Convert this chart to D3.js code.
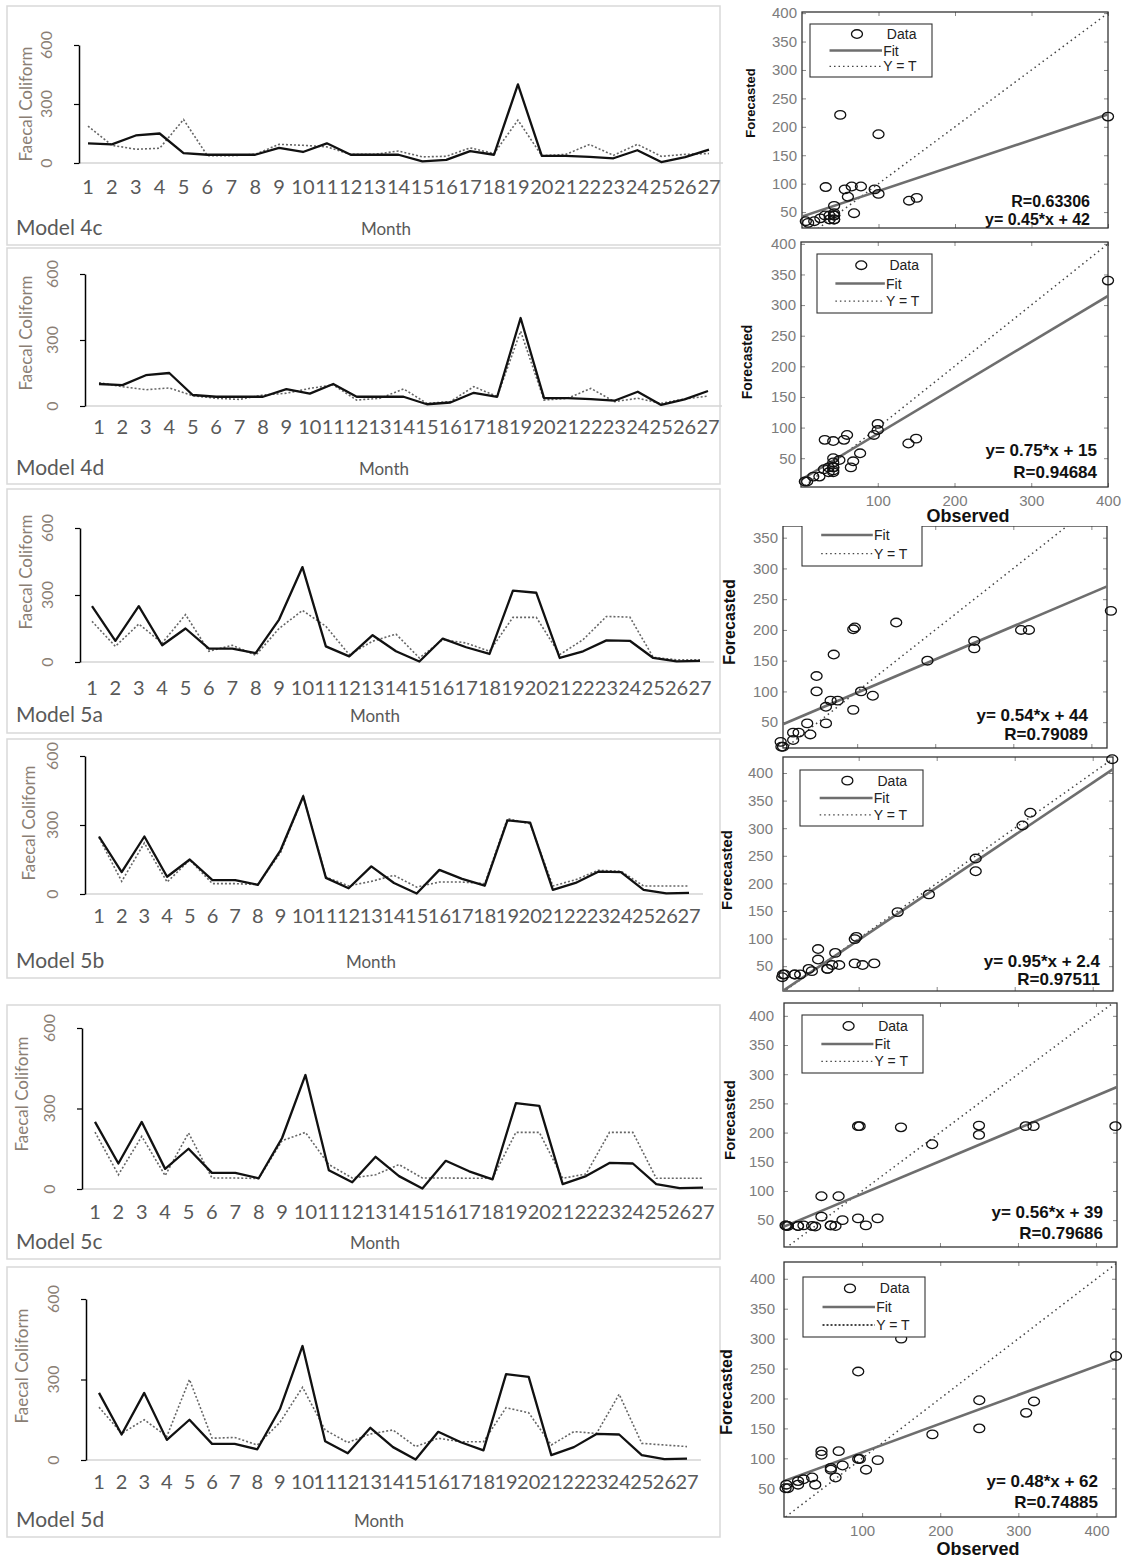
<!DOCTYPE html>
<html>
<head>
<meta charset="utf-8">
<script src="https://cdn.jsdelivr.net/npm/d3@7"></script>
<style>
body { margin: 0; background: #fff; }
svg { display: block; }
</style>
</head>
<body>
<script>
// month categories and tick values
const months = [1, 2, 3, 4, 5, 6, 7, 8, 9, 10, 11, 12, 13, 14, 15, 16, 17, 18, 19, 20, 21, 22, 23, 24, 25, 26, 27];
const coliformTicks = [0, 300, 600];
const forecastTicks = [50, 100, 150, 200, 250, 300, 350, 400];
const observedTicks = [100, 200, 300, 400];

// observed faecal coliform (solid line)
const observed4 = [100, 95, 140, 150, 50, 42, 42, 42, 77, 56, 100, 42, 42, 42, 8, 16, 60, 42, 400, 36, 36, 31, 24, 65, 5, 30, 68];
const observed5 = [250, 95, 250, 75, 150, 60, 60, 40, 190, 425, 70, 25, 120, 48, 2, 105, 66, 36, 320, 310, 18, 48, 97, 95, 18, 3, 5];

// forecasted values (dotted line)
const forecast4c = [187, 90, 70, 75, 221, 37, 37, 44, 95, 90, 82, 44, 44, 61, 31, 34, 77, 48, 218, 37, 44, 94, 39, 95, 34, 44, 48];
const forecast4d = [106, 88, 74, 82, 47, 35, 30, 50, 58, 80, 96, 27, 35, 78, 12, 20, 88, 43, 340, 27, 35, 80, 20, 35, 12, 32, 45];
const forecast5a = [182, 70, 170, 85, 212, 48, 75, 30, 150, 231, 160, 33, 93, 125, 18, 100, 85, 48, 200, 200, 33, 100, 204, 201, 21, 10, 10];
const forecast5b = [245, 55, 222, 52, 148, 45, 45, 41, 180, 425, 74, 35, 55, 81, 30, 52, 52, 45, 328, 305, 35, 62, 103, 99, 35, 35, 35];
const forecast5c = [212, 53, 196, 50, 209, 41, 41, 39, 180, 211, 91, 41, 53, 91, 41, 41, 40, 40, 211, 211, 40, 56, 211, 211, 40, 40, 40];
const forecast5d = [197, 99, 150, 88, 300, 81, 84, 56, 140, 271, 112, 65, 97, 112, 50, 81, 68, 68, 195, 176, 56, 106, 99, 245, 62, 56, 50];

const modelNames = ["Model 4c", "Model 4d", "Model 5a", "Model 5b", "Model 5c", "Model 5d"];
const fitSlope = [0.45, 0.75, 0.54, 0.95, 0.56, 0.48];
const fitIntercept = [42, 15, 44, 2.4, 39, 62];
const fitLabels = ["y= 0.45*x + 42", "y= 0.75*x + 15", "y= 0.54*x + 44", "y= 0.95*x + 2.4", "y= 0.56*x + 39", "y= 0.48*x + 62"];
const rLabels = ["R=0.63306", "R=0.94684", "R=0.79089", "R=0.97511", "R=0.79686", "R=0.74885"];

const observedSets = [observed4, observed4, observed5, observed5, observed5, observed5];
const forecastSets = [forecast4c, forecast4d, forecast5a, forecast5b, forecast5c, forecast5d];

// where each left-hand time series sits
const lineLayout = [
    {box: [7, 6, 720, 245], ax: 79, y600: 45, y0: 163, m1: 88, m27: 709, lab: 187, foot: 235, monthX: 386, titleX: 26, titleY: 104},
    {box: [7, 248, 720, 484], ax: 85, y600: 274, y0: 406, m1: 99, m27: 708, lab: 427, foot: 475, monthX: 384, titleX: 26, titleY: 333},
    {box: [7, 489, 720, 733], ax: 80, y600: 528, y0: 662, m1: 92, m27: 700, lab: 688, foot: 722, monthX: 375, titleX: 26, titleY: 572},
    {box: [7, 739, 720, 978], ax: 85, y600: 756, y0: 894, m1: 99, m27: 689, lab: 916, foot: 968, monthX: 371, titleX: 29, titleY: 823},
    {box: [7, 1005, 720, 1259], ax: 82, y600: 1028, y0: 1189, m1: 95, m27: 703, lab: 1212, foot: 1249, monthX: 375, titleX: 22, titleY: 1094},
    {box: [7, 1267, 720, 1537], ax: 86, y600: 1299, y0: 1460, m1: 99, m27: 687, lab: 1482, foot: 1527, monthX: 379, titleX: 22, titleY: 1366}
];

// where each right-hand regression plot sits
const scatterLayout = [
    {left: 802, right: 1108, top: 12, bottom: 228, xd: [0, 400], yd: [22, 402], legend: [810, 24, 122, 53], txtX: 1090, eqY: 225, rY: 207, txtSize: 16, labX: 750, labY: 103, labSize: 13, pad: 5},
    {left: 801, right: 1108, top: 242, bottom: 487, xd: [0, 400], yd: [3, 403], legend: [817, 254, 115, 59], txtX: 1097, eqY: 456, rY: 478, txtSize: 17, labX: 747, labY: 362, labSize: 14, pad: 5, xLabels: true, obsY: 522, obsX: 968},
    {left: 783, right: 1107, top: 526, bottom: 748, xd: [5, 420], yd: [8, 369], legend: [802, 504, 120, 62], txtX: 1088, eqY: 721, rY: 740, txtSize: 17, labX: 730, labY: 622, labSize: 16, pad: 5, clipTop: 526},
    {left: 783, right: 1113, top: 757, bottom: 991, xd: [3, 426], yd: [5, 429], legend: [800, 770, 123, 56], txtX: 1100, eqY: 967, rY: 985, txtSize: 17, labX: 727, labY: 870, labSize: 15, pad: 10},
    {left: 784, right: 1117, top: 1003, bottom: 1247, xd: [0, 427], yd: [4, 422], legend: [802, 1015, 121, 58], txtX: 1103, eqY: 1218, rY: 1239, txtSize: 17, labX: 730, labY: 1120, labSize: 15, pad: 10},
    {left: 784, right: 1116, top: 1262, bottom: 1517, xd: [0, 425], yd: [2, 428], legend: [803, 1277, 122, 60], txtX: 1098, eqY: 1487, rY: 1508, txtSize: 17, labX: 727, labY: 1392, labSize: 16, pad: 9, xLabels: true, obsY: 1555, obsX: 978}
];

const svg = d3.select('body').append('svg')
    .attr('width', 1128)
    .attr('height', 1560);
const defs = svg.append('defs');

const excelFont = "Lato, 'Open Sans', sans-serif";
const matlabFont = "'Liberation Sans', Arial, sans-serif";

// ---- time series panels ----
lineLayout.forEach(function (r, i) {
    const g = svg.append('g').style('font-family', excelFont);

    g.append('rect')
        .attr('x', r.box[0]).attr('y', r.box[1])
        .attr('width', r.box[2] - r.box[0]).attr('height', r.box[3] - r.box[1])
        .attr('fill', 'none').attr('stroke', '#d9d9d9').attr('stroke-width', 1.5);

    const x = d3.scaleLinear().domain([1, 27]).range([r.m1, r.m27]);
    const y = d3.scaleLinear().domain([0, 600]).range([r.y0, r.y600]);

    g.append('line')
        .attr('x1', r.ax).attr('x2', r.m27 + 14)
        .attr('y1', y(0)).attr('y2', y(0))
        .attr('stroke', '#d4d4d4').attr('stroke-width', 1.5);

    const yAxis = g.append('g')
        .attr('transform', `translate(${r.ax},0)`)
        .call(d3.axisLeft(y).tickValues(coliformTicks).tickSize(5).tickSizeOuter(0).tickFormat(''));
    yAxis.select('.domain').attr('stroke', '#000').attr('stroke-width', 1.5);
    yAxis.selectAll('.tick line').attr('stroke', '#000').attr('stroke-width', 1.2);

    g.selectAll('.ylab')
        .data(coliformTicks)
        .enter()
        .append('text')
        .attr('class', 'ylab')
        .attr('transform', function (d) {
            return `translate(${r.ax - 27},${y(d)}) rotate(-90)`;
        })
        .attr('text-anchor', 'middle')
        .attr('font-size', 16)
        .attr('fill', '#8a7e74')
        .text(function (d) { return d; });

    g.append('text')
        .attr('transform', `translate(${r.titleX + 6},${r.titleY}) rotate(-90)`)
        .attr('text-anchor', 'middle')
        .attr('font-size', 17)
        .attr('fill', '#8a7e74')
        .text('Faecal Coliform');

    g.selectAll('.mlab')
        .data(months)
        .enter()
        .append('text')
        .attr('class', 'mlab')
        .attr('x', function (d) { return x(d); })
        .attr('y', r.lab + 7)
        .attr('text-anchor', 'middle')
        .attr('font-size', 20)
        .attr('fill', '#595959')
        .text(function (d) { return d; });

    g.append('text')
        .attr('x', r.box[0] + 9).attr('y', r.foot)
        .attr('font-size', 21)
        .attr('fill', '#595959')
        .text(modelNames[i]);

    g.append('text')
        .attr('x', r.monthX).attr('y', r.foot)
        .attr('text-anchor', 'middle')
        .attr('font-size', 17)
        .attr('fill', '#595959')
        .text('Month');

    const line = d3.line()
        .x(function (d, k) { return x(months[k]); })
        .y(function (d) { return y(d); });

    g.append('path')
        .datum(forecastSets[i])
        .attr('d', line)
        .attr('fill', 'none')
        .attr('stroke', '#666')
        .attr('stroke-width', 1.6)
        .attr('stroke-dasharray', '2,2');

    g.append('path')
        .datum(observedSets[i])
        .attr('d', line)
        .attr('fill', 'none')
        .attr('stroke', '#111')
        .attr('stroke-width', 2.3)
        .attr('stroke-linejoin', 'round');
});

// ---- regression panels ----
scatterLayout.forEach(function (p, i) {
    const g = svg.append('g').style('font-family', matlabFont);
    if (p.clipTop) {
        defs.append('clipPath').attr('id', 'cut' + i)
            .append('rect').attr('x', 700).attr('y', p.clipTop).attr('width', 428).attr('height', 400);
        g.attr('clip-path', `url(#cut${i})`);
    }

    const x = d3.scaleLinear().domain(p.xd).range([p.left, p.right]);
    const y = d3.scaleLinear().domain(p.yd).range([p.bottom, p.top]);
    const inX = function (v) { return v >= p.xd[0] && v <= p.xd[1]; };
    const inY = function (v) { return v >= p.yd[0] && v <= p.yd[1]; };

    defs.append('clipPath').attr('id', 'frame' + i)
        .append('rect')
        .attr('x', p.left).attr('y', p.top)
        .attr('width', p.right - p.left).attr('height', p.bottom - p.top);

    // inward tick marks on all four sides
    const left = g.append('g').attr('transform', `translate(${p.left},0)`)
        .call(d3.axisLeft(y).tickValues(forecastTicks.filter(inY)).tickSize(-4).tickSizeOuter(0).tickPadding(p.pad));
    const right = g.append('g').attr('transform', `translate(${p.right},0)`)
        .call(d3.axisRight(y).tickValues(forecastTicks.filter(inY)).tickSize(-4).tickSizeOuter(0).tickFormat(''));
    const bottom = g.append('g').attr('transform', `translate(0,${p.bottom})`)
        .call(d3.axisBottom(x).tickValues(observedTicks.filter(inX)).tickSize(-4).tickSizeOuter(0).tickPadding(8)
            .tickFormat(p.xLabels ? d3.format('d') : ''));
    const top = g.append('g').attr('transform', `translate(0,${p.top})`)
        .call(d3.axisTop(x).tickValues(observedTicks.filter(inX)).tickSize(-4).tickSizeOuter(0).tickFormat(''));
    [left, right, bottom, top].forEach(function (a) {
        a.select('.domain').remove();
        a.selectAll('.tick line').attr('stroke', '#888');
        a.selectAll('.tick text').attr('font-size', 15).attr('fill', '#7c7c7c').attr('font-family', matlabFont);
    });

    g.append('rect')
        .attr('x', p.left).attr('y', p.top)
        .attr('width', p.right - p.left).attr('height', p.bottom - p.top)
        .attr('fill', 'none').attr('stroke', '#333').attr('stroke-width', 1.3);

    const lines = g.append('g').attr('clip-path', `url(#frame${i})`);
    const lo = d3.min(observedSets[i]);
    const hi = d3.max(observedSets[i]);
    lines.append('line')
        .attr('x1', x(lo)).attr('y1', y(lo))
        .attr('x2', x(hi)).attr('y2', y(hi))
        .attr('stroke', '#444').attr('stroke-width', 1.5)
        .attr('stroke-dasharray', '1.5,3.5');
    lines.append('line')
        .attr('x1', x(p.xd[0])).attr('y1', y(fitSlope[i] * p.xd[0] + fitIntercept[i]))
        .attr('x2', x(p.xd[1])).attr('y2', y(fitSlope[i] * p.xd[1] + fitIntercept[i]))
        .attr('stroke', '#6e6e6e').attr('stroke-width', 2.6);

    const pairs = observedSets[i].map(function (o, k) { return [o, forecastSets[i][k]]; });
    g.selectAll('.pt')
        .data(pairs)
        .enter()
        .append('ellipse')
        .attr('class', 'pt')
        .attr('cx', function (d) { return x(d[0]); })
        .attr('cy', function (d) { return y(d[1]); })
        .attr('rx', 5.5)
        .attr('ry', 4.3)
        .attr('fill', 'none')
        .attr('stroke', '#111')
        .attr('stroke-width', 1.3);

    // legend
    const L = p.legend;
    const lg = g.append('g');
    lg.append('rect')
        .attr('x', L[0]).attr('y', L[1]).attr('width', L[2]).attr('height', L[3])
        .attr('fill', '#fff').attr('stroke', '#333').attr('stroke-width', 1.1);
    const row = [L[1] + 0.19 * L[3], L[1] + 0.5 * L[3], L[1] + 0.8 * L[3]];
    lg.append('ellipse')
        .attr('cx', L[0] + 0.385 * L[2]).attr('cy', row[0])
        .attr('rx', 5.5).attr('ry', 4.3)
        .attr('fill', 'none').attr('stroke', '#111').attr('stroke-width', 1.3);
    lg.append('line')
        .attr('x1', L[0] + 0.16 * L[2]).attr('x2', L[0] + 0.59 * L[2])
        .attr('y1', row[1]).attr('y2', row[1])
        .attr('stroke', '#6e6e6e').attr('stroke-width', 2.6);
    lg.append('line')
        .attr('x1', L[0] + 0.16 * L[2]).attr('x2', L[0] + 0.59 * L[2])
        .attr('y1', row[2]).attr('y2', row[2])
        .attr('stroke', '#444').attr('stroke-width', i === 5 ? 2 : 1.3)
        .attr('stroke-dasharray', i === 5 ? '2,2' : '1.5,3');
    lg.selectAll('.lt')
        .data(['Data', 'Fit', 'Y = T'])
        .enter()
        .append('text')
        .attr('class', 'lt')
        .attr('x', function (d, k) { return L[0] + (k === 0 ? 0.63 : 0.6) * L[2]; })
        .attr('y', function (d, k) { return row[k] + 5; })
        .attr('font-size', 14)
        .attr('fill', '#222')
        .text(function (d) { return d; });

    g.append('text')
        .attr('transform', `translate(${p.labX + 5},${p.labY}) rotate(-90)`)
        .attr('text-anchor', 'middle')
        .attr('font-size', p.labSize)
        .attr('font-weight', 'bold')
        .attr('fill', '#111')
        .text('Forecasted');

    g.append('text')
        .attr('x', p.txtX).attr('y', p.eqY)
        .attr('text-anchor', 'end')
        .attr('font-size', p.txtSize).attr('font-weight', 'bold').attr('fill', '#111')
        .text(fitLabels[i]);
    g.append('text')
        .attr('x', p.txtX).attr('y', p.rY)
        .attr('text-anchor', 'end')
        .attr('font-size', p.txtSize).attr('font-weight', 'bold').attr('fill', '#111')
        .text(rLabels[i]);

    if (p.xLabels) {
        g.append('text')
            .attr('x', p.obsX).attr('y', p.obsY)
            .attr('text-anchor', 'middle')
            .attr('font-size', 18).attr('font-weight', 'bold').attr('fill', '#111')
            .text('Observed');
    }
});
</script>
</body>
</html>
